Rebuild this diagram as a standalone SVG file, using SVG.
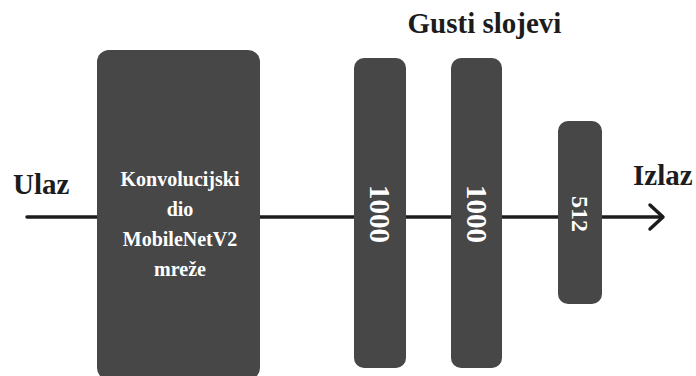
<svg xmlns="http://www.w3.org/2000/svg" width="696" height="376" viewBox="0 0 696 376">
<style>
.box{fill:#474747}
.lbl{font-family:"Liberation Serif","Times New Roman",serif;font-weight:bold;fill:#1c1c1c}
.in{font-family:"Liberation Serif","Times New Roman",serif;font-weight:bold;fill:#ffffff}
.ln{stroke:#1c1c1c;stroke-width:3.5;fill:none;stroke-linecap:round;stroke-linejoin:round}
</style>
<rect width="696" height="376" fill="#ffffff"/>
<g id="connectors">
<line class="ln" x1="27" y1="217" x2="662" y2="217"/>
<polyline class="ln" points="650,205 663,217 650,229"/>
</g>
<g id="conv">
<rect class="box" x="97" y="50" width="163" height="330" rx="12"/>
<text class="in" font-size="20" text-anchor="middle"><tspan x="180" y="186">Konvolucijski</tspan><tspan x="180" y="216">dio</tspan><tspan x="180" y="246">MobileNetV2</tspan><tspan x="180" y="276">mreže</tspan></text>
</g>
<g id="dense1">
<rect class="box" x="354" y="58" width="52" height="310" rx="10"/>
<text class="in" font-size="29" text-anchor="middle" dominant-baseline="central" transform="translate(380,214) rotate(90)">1000</text>
</g>
<g id="dense2">
<rect class="box" x="451" y="58" width="51" height="310" rx="10"/>
<text class="in" font-size="29" text-anchor="middle" dominant-baseline="central" transform="translate(476.5,214) rotate(90)">1000</text>
</g>
<g id="dense3">
<rect class="box" x="558" y="121" width="44" height="183" rx="10"/>
<text class="in" font-size="24" text-anchor="middle" dominant-baseline="central" transform="translate(580,214) rotate(90)">512</text>
</g>
<g id="labels">
<text class="lbl" font-size="29" x="13" y="194">Ulaz</text>
<text class="lbl" font-size="29" x="633" y="185">Izlaz</text>
<text class="lbl" font-size="29" x="484.5" y="33" text-anchor="middle">Gusti slojevi</text>
</g>
</svg>
